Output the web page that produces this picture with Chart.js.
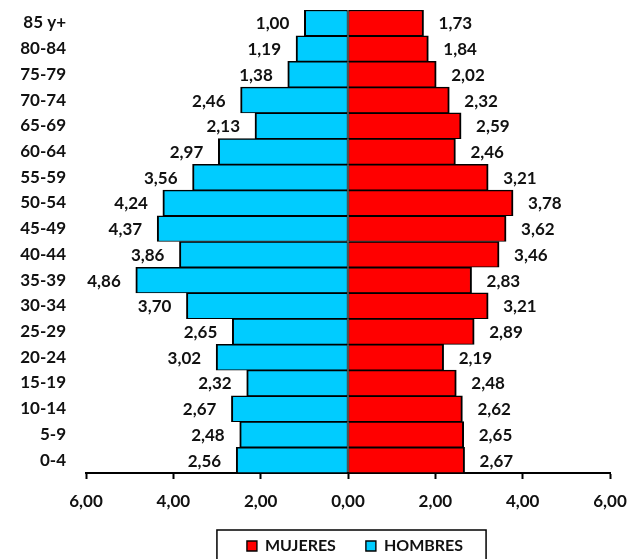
<html>
<head>
    <script src="https://cdn.jsdelivr.net/npm/chart.js"></script>
    <style>
        body { margin: 0; background: #fff; }
    </style>
</head>
<body>
    <canvas id="piramide" width="631" height="559"></canvas>

    <script>
        // grupos de edad, de arriba hacia abajo
        var grupos = ['85 y+', '80-84', '75-79', '70-74', '65-69', '60-64', '55-59', '50-54', '45-49',
            '40-44', '35-39', '30-34', '25-29', '20-24', '15-19', '10-14', '5-9', '0-4'];
        var hombres = [1.00, 1.19, 1.38, 2.46, 2.13, 2.97, 3.56, 4.24, 4.37, 3.86, 4.86, 3.70, 2.65, 3.02, 2.32, 2.67, 2.48, 2.56];
        var mujeres = [1.73, 1.84, 2.02, 2.32, 2.59, 2.46, 3.21, 3.78, 3.62, 3.46, 2.83, 3.21, 2.89, 2.19, 2.48, 2.62, 2.65, 2.67];

        var fuente = 'Lato';

        function fmt(v) {
            return Math.abs(v).toFixed(2).replace('.', ',');
        }

        // etiquetas de valor al final de cada barra
        var etiquetas = {
            id: 'etiquetas',
            afterDatasetsDraw: function(chart) {
                var ctx = chart.ctx;
                ctx.save();
                ctx.font = 'bold 17px ' + fuente;
                ctx.fillStyle = '#111';
                ctx.textBaseline = 'middle';
                chart.data.datasets.forEach(function(ds, i) {
                    var meta = chart.getDatasetMeta(i);
                    meta.data.forEach(function(bar, j) {
                        var v = ds.data[j];
                        if (v < 0) {
                            ctx.textAlign = 'right';
                            ctx.fillText(fmt(v), bar.x - 15, bar.y + 1);
                        } else {
                            ctx.textAlign = 'left';
                            ctx.fillText(fmt(v), bar.x + 15, bar.y + 1);
                        }
                    });
                });
                ctx.restore();
            }
        };

        // mover la leyenda y dibujarle un marco
        var marcoLeyenda = {
            id: 'marcoLeyenda',
            afterLayout: function(chart) {
                var l = chart.legend;
                l.left += 50; l.right += 50;
                l.top -= 5; l.bottom -= 5;
            },
            afterDraw: function(chart) {
                var l = chart.legend;
                var cajas = l.legendHitBoxes;
                var ultima = cajas[cajas.length - 1];
                var izq = cajas[0].left - 30;
                var der = ultima.left + ultima.width + 23;
                var arriba = l.top + 30 - 8;
                var ctx = chart.ctx;
                ctx.save();
                ctx.strokeStyle = '#000';
                ctx.lineWidth = 1.5;
                ctx.strokeRect(izq, arriba, der - izq, 40);
                ctx.restore();
            }
        };

        Chart.defaults.font.family = fuente;
        Chart.defaults.font.weight = 'bold';
        Chart.defaults.color = '#111';

        var ctx = document.getElementById('piramide').getContext('2d');
        var piramide = new Chart(ctx, {
            type: 'bar',
            data: {
                labels: grupos,
                datasets: [{
                    label: 'MUJERES',
                    data: mujeres,
                    backgroundColor: '#FF0000',
                    borderColor: '#000',
                    borderWidth: { top: 1.5, right: 2, bottom: 1, left: 1 },
                    borderSkipped: false,
                    barPercentage: 1,
                    categoryPercentage: 1
                }, {
                    label: 'HOMBRES',
                    data: hombres.map(function(v) { return -v; }),
                    backgroundColor: '#00CCFF',
                    borderColor: '#000',
                    borderWidth: { top: 1.5, right: 1, bottom: 1, left: 2 },
                    borderSkipped: false,
                    barPercentage: 1,
                    categoryPercentage: 1
                }]
            },
            options: {
                indexAxis: 'y',
                responsive: false,
                animation: false,
                layout: { padding: { top: 10, right: 21, left: 0, bottom: 0 } },
                scales: {
                    x: {
                        stacked: true,
                        min: -6,
                        max: 6,
                        ticks: {
                            stepSize: 2,
                            padding: 12,
                            font: { size: 17, weight: 'bold' },
                            callback: function(v) { return fmt(v); }
                        },
                        grid: {
                            drawOnChartArea: false,
                            drawTicks: true,
                            tickLength: 6,
                            tickWidth: 2,
                            tickColor: '#000'
                        },
                        border: { display: true, color: '#000', width: 2 },
                        afterFit: function(scale) {
                            scale.height = 40;
                            scale.paddingLeft = 0;
                            scale.paddingRight = 0;
                        }
                    },
                    y: {
                        stacked: true,
                        ticks: {
                            padding: 12,
                            font: { size: 17, weight: 'bold' }
                        },
                        grid: { display: false },
                        border: { display: false },
                        afterFit: function(scale) {
                            scale.width = 86;
                            scale.paddingTop = 0;
                            scale.paddingBottom = 0;
                        }
                    }
                },
                plugins: {
                    legend: {
                        position: 'bottom',
                        maxHeight: 46,
                        labels: {
                            boxWidth: 10,
                            boxHeight: 10,
                            padding: 30,
                            color: '#111',
                            font: { size: 16, weight: 'bold' }
                        }
                    },
                    tooltip: { enabled: false }
                }
            },
            plugins: [etiquetas, marcoLeyenda]
        });
    </script>
</body>
</html>
